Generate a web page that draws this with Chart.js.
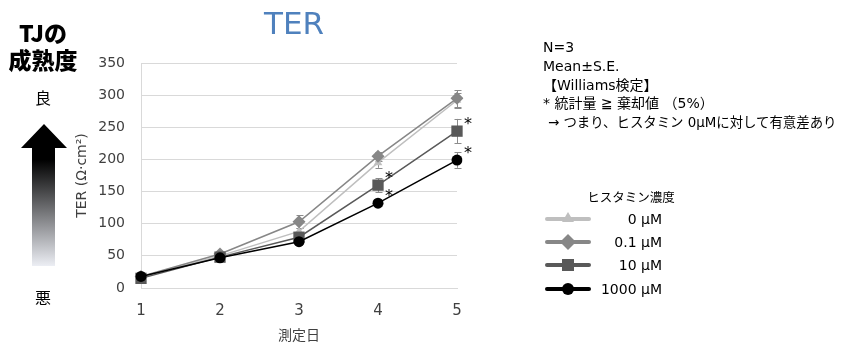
<!DOCTYPE html>
<html><head><meta charset="utf-8">
<script src="https://cdn.jsdelivr.net/npm/chart.js@4/dist/chart.umd.min.js"></script>
<style>
html,body{margin:0;padding:0;background:#fff;}
#wrap{position:relative;width:841px;height:343px;overflow:hidden;font-family:"DejaVu Sans","Noto Sans CJK JP",sans-serif;color:#000;}
#c{position:absolute;left:0;top:0;}
.t{position:absolute;white-space:nowrap;line-height:1;}
#title{left:294px;top:23px;transform:translate(-50%,-50%);font-size:31px;color:#4F81BD;}
#tj{left:43px;top:19px;transform:translateX(-50%);font-family:"Noto Sans CJK JP",sans-serif;font-weight:900;font-size:23px;line-height:27px;text-align:center;}
#good,#bad{left:43px;transform:translate(-50%,-50%);font-family:"Noto Sans CJK JP",sans-serif;font-size:16px;}
#good{top:97px;} #bad{top:297px;}
#arrow{position:absolute;left:0;top:0;}
#notes{left:543px;top:38px;font-size:14px;line-height:18.75px;color:#000;font-family:"DejaVu Sans","Noto Sans CJK JP",sans-serif;}
#notes .s{font-size:13.4px;padding-left:5px;}
#legtitle{left:631px;top:197px;transform:translate(-50%,-50%);font-size:12.5px;font-family:"Noto Sans CJK JP",sans-serif;}
.leg{right:179px;transform:translateY(-50%);font-size:14px;}
</style></head><body>
<div id="wrap">
<canvas id="c" width="841" height="343"></canvas>
<svg id="arrow" width="100" height="300">
<defs><linearGradient id="g" x1="0" y1="0" x2="0" y2="1">
<stop offset="0" stop-color="#000"/><stop offset="0.25" stop-color="#000"/><stop offset="1" stop-color="#eceef4"/></linearGradient></defs>
<polygon points="44,124 67,148 55,148 55,266 32,266 32,148 21,148" fill="url(#g)"/>
</svg>
<div class="t" id="title">TER</div>
<div class="t" id="tj">TJの<br>成熟度</div>
<div class="t" id="good">良</div>
<div class="t" id="bad">悪</div>
<div class="t" id="notes">N=3<br>Mean±S.E.<br>【Williams検定】<br>* 統計量 ≧ 棄却値 （5%）<br><span class="s">→ つまり、ヒスタミン 0μMに対して有意差あり</span></div>
<div class="t" id="legtitle">ヒスタミン濃度</div>
<div class="t leg" style="top:219px">0 μM</div>
<div class="t leg" style="top:242px">0.1 μM</div>
<div class="t leg" style="top:265px">10 μM</div>
<div class="t leg" style="top:289px">1000 μM</div>
</div>
<script>
// ---- data ----
const days = ['1','2','3','4','5'];
const seriesNames = ['0 μM','0.1 μM','10 μM','1000 μM'];
const ter0    = [17, 50, 88, 195, 292];
const ter01   = [18, 53, 103, 205, 295];
const ter10   = [15, 48, 79, 160, 244];
const ter1000 = [18, 47, 72, 132, 199];
const se0    = [2, 3, 6, 8, 12];
const se01   = [2, 3, 10, 7, 13];
const se10   = [2, 3, 5, 11, 19];
const se1000 = [2, 2, 3, 4, 12];
const sig0    = [0,0,0,0,0];
const sig01   = [0,0,0,0,0];
const sig10   = [0,0,0,1,1];
const sig1000 = [0,0,0,1,1];
const yTicks = [0,50,100,150,200,250,300,350];

const colors = ['#bfbfbf','#878787','#595959','#000000'];
const styles = ['triangle','rectRot','rect','circle'];
const radii = [5,6.5,8,5.5];
const allVals = [ter0, ter01, ter10, ter1000];
const allSE = [se0, se01, se10, se1000];
const allSig = [sig0, sig01, sig10, sig1000];
const legendY = [219,242,265,289];

const FONT = '"DejaVu Sans","Noto Sans CJK JP",sans-serif';

const extras = {
  id:'extras',
  beforeDatasetsDraw(chart){
    const ctx = chart.ctx, xs = chart.scales.x, ys = chart.scales.y;
    ctx.save();
    ctx.strokeStyle = '#8c8c8c'; ctx.lineWidth = 1;
    allVals.forEach((vals,i)=>{
      vals.forEach((v,j)=>{
        const x = Math.round(xs.getPixelForValue(j))+0.5;
        const yt = ys.getPixelForValue(v+allSE[i][j]);
        const yb = ys.getPixelForValue(v-allSE[i][j]);
        ctx.beginPath();
        ctx.moveTo(x,yt); ctx.lineTo(x,yb);
        ctx.moveTo(x-3,Math.round(yt)+0.5); ctx.lineTo(x+4,Math.round(yt)+0.5);
        ctx.moveTo(x-3,Math.round(yb)+0.5); ctx.lineTo(x+4,Math.round(yb)+0.5);
        ctx.stroke();
      });
    });
    ctx.restore();
  },
  afterDatasetsDraw(chart){
    const ctx = chart.ctx, xs = chart.scales.x, ys = chart.scales.y;
    ctx.save();
    ctx.fillStyle = '#000';
    ctx.font = '16px ' + FONT;
    ctx.textAlign = 'center'; ctx.textBaseline = 'alphabetic';
    allSig.forEach((sig,i)=>{
      sig.forEach((s,j)=>{
        if(!s) return;
        const x = xs.getPixelForValue(j), y = ys.getPixelForValue(allVals[i][j]);
        ctx.fillText('*', x+11, y-11+9);
      });
    });
    ctx.restore();
  },
  afterDraw(chart){
    const ctx = chart.ctx;
    ctx.save();
    legendY.forEach((y,i)=>{
      ctx.strokeStyle = colors[i]; ctx.lineWidth = 4; ctx.lineCap='round';
      ctx.beginPath(); ctx.moveTo(547,y); ctx.lineTo(589,y); ctx.stroke();
      ctx.fillStyle = colors[i];
      const cx = 568;
      ctx.beginPath();
      if(styles[i]==='triangle'){ ctx.moveTo(cx,y-7); ctx.lineTo(cx+6,y+3); ctx.lineTo(cx-6,y+3); ctx.closePath(); }
      else if(styles[i]==='rectRot'){ ctx.moveTo(cx,y-8); ctx.lineTo(cx+8,y); ctx.lineTo(cx,y+8); ctx.lineTo(cx-8,y); ctx.closePath(); }
      else if(styles[i]==='rect'){ ctx.rect(cx-6,y-6,12,12); }
      else { ctx.arc(cx,y,6,0,Math.PI*2); }
      ctx.fill();
    });
    ctx.restore();
  }
};

Chart.defaults.font.family = FONT;
Chart.defaults.font.size = 14;
Chart.defaults.color = '#404040';

new Chart(document.getElementById('c'), {
  type:'line',
  data:{
    labels: days,
    datasets: allVals.map((vals,i)=>({
      label: seriesNames[i],
      data: vals,
      borderColor: colors[i],
      backgroundColor: colors[i],
      borderWidth: 1.5,
      pointStyle: styles[i],
      pointRadius: radii[i],
      pointBorderWidth: 0,
      pointBackgroundColor: colors[i],
      tension: 0,
      order: 4-i
    }))
  },
  options:{
    responsive:false,
    animation:false,
    devicePixelRatio:1,
    layout:{padding:{left:70,right:384,top:63,bottom:0}},
    plugins:{legend:{display:false},tooltip:{enabled:false},title:{display:false}},
    scales:{
      x:{
        type:'category',
        offset:false,
        grid:{display:false,drawTicks:false},
        border:{display:true,color:'#d9d9d9',width:1},
        ticks:{padding:14,font:{size:15},color:'#404040',maxRotation:0},
        title:{display:true,text:'測定日',font:{size:14,family:'"Noto Sans CJK JP",sans-serif'},color:'#404040',padding:{top:0,bottom:0}},
        afterFit(s){ s.height = 55; }
      },
      y:{
        min:0,max:350,
        afterBuildTicks(s){ s.ticks = yTicks.map(v=>({value:v})); },
        grid:{color:'#d9d9d9',drawTicks:false,lineWidth:1},
        border:{display:true,color:'#d9d9d9',width:1},
        ticks:{padding:16,font:{size:14},color:'#404040'},
        title:{display:true,text:'TER (Ω·cm²)',font:{size:14},color:'#404040',padding:{top:4,bottom:0}},
        afterFit(s){ s.width = 71; }
      }
    }
  },
  plugins:[extras]
});
</script>
</body></html>
